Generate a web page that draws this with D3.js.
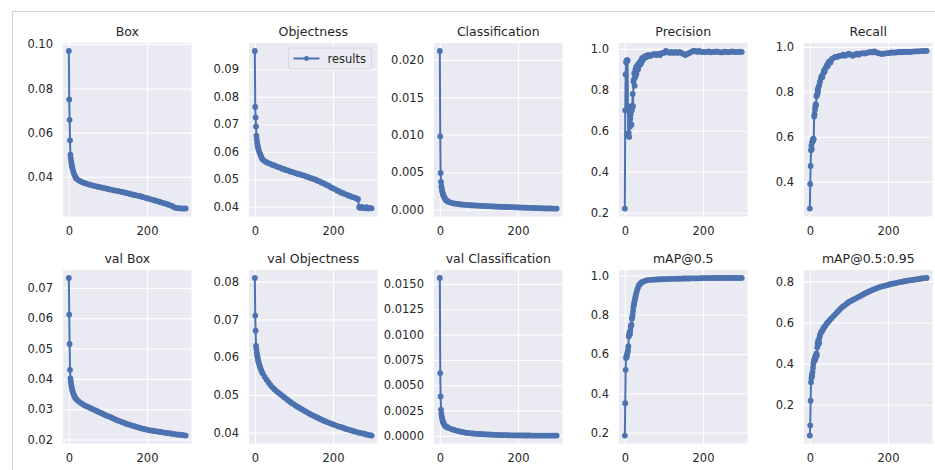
<!DOCTYPE html>
<html>
<head>
<meta charset="utf-8">
<script src="https://cdn.jsdelivr.net/npm/d3@7"></script>
<style>
  body { margin: 0; background: #fff; }
  text { font-family: "DejaVu Sans", sans-serif; fill: #262626; }
</style>
</head>
<body>
<div id="chart"></div>
<script>
// [epoch, value]
var boxLoss = [[0,0.0970],[1,0.0750],[2,0.0658],[3,0.0565],[4,0.0500],[5,0.0485],[6,0.0470],[7,0.0458],[8,0.0448],[9,0.0440],[10,0.0432],[12,0.0420],[14,0.0410],[16,0.0402],[18,0.0396],[20,0.0391],[25,0.0384],[30,0.0379],[35,0.0375],[40,0.0372],[45,0.0369],[50,0.0366],[55,0.0364],[60,0.0361],[65,0.0359],[70,0.0357],[75,0.0355],[80,0.0353],[85,0.0351],[90,0.0349],[95,0.0347],[100,0.0345],[105,0.0343],[110,0.0341],[115,0.0339],[120,0.0337],[125,0.0336],[130,0.0334],[135,0.0332],[140,0.0330],[145,0.0328],[150,0.0326],[155,0.0323],[160,0.0321],[165,0.0319],[170,0.0317],[175,0.0315],[180,0.0313],[185,0.0311],[190,0.0308],[195,0.0306],[200,0.0303],[205,0.0301],[210,0.0298],[215,0.0296],[220,0.0293],[225,0.0291],[230,0.0288],[235,0.0285],[240,0.0282],[245,0.0280],[250,0.0277],[255,0.0274],[260,0.0271],[265,0.0267],[270,0.0262],[275,0.0259],[280,0.0258],[285,0.0257],[290,0.0257],[295,0.0256],[299,0.0257]];

var objLoss = [[0,0.0967],[1,0.0763],[2,0.0725],[3,0.0692],[4,0.0658],[5,0.0645],[6,0.0633],[7,0.0624],[8,0.0617],[9,0.0611],[10,0.0605],[12,0.0597],[14,0.0590],[16,0.0583],[18,0.0577],[20,0.0572],[25,0.0566],[30,0.0562],[35,0.0558],[40,0.0556],[45,0.0552],[50,0.0550],[55,0.0547],[60,0.0544],[65,0.0542],[70,0.0538],[75,0.0537],[80,0.0533],[85,0.0532],[90,0.0528],[95,0.0527],[100,0.0524],[105,0.0522],[110,0.0519],[115,0.0518],[120,0.0515],[125,0.0514],[130,0.0510],[135,0.0509],[140,0.0505],[145,0.0504],[150,0.0500],[155,0.0499],[160,0.0494],[165,0.0493],[170,0.0488],[175,0.0486],[180,0.0482],[185,0.0478],[190,0.0476],[195,0.0470],[200,0.0467],[205,0.0464],[210,0.0459],[215,0.0457],[220,0.0452],[225,0.0450],[230,0.0446],[235,0.0444],[240,0.0440],[245,0.0438],[250,0.0435],[255,0.0433],[260,0.0430],[264,0.0427],[267,0.0398],[270,0.0395],[274,0.0399],[278,0.0396],[282,0.0394],[286,0.0398],[290,0.0393],[294,0.0396],[299,0.0394]];

var clsLoss = [[0,0.0212],[1,0.0098],[2,0.0049],[3,0.0037],[4,0.0031],[5,0.0028],[6,0.0025],[7,0.0023],[8,0.0021],[9,0.0019],[10,0.0018],[12,0.0016],[14,0.0014],[16,0.0013],[18,0.0012],[20,0.0011],[25,0.00100],[30,0.00092],[35,0.00086],[40,0.00081],[45,0.00077],[50,0.00073],[55,0.00070],[60,0.00068],[65,0.00066],[70,0.00064],[75,0.00062],[80,0.00060],[85,0.00058],[90,0.00057],[95,0.00055],[100,0.00054],[105,0.00052],[110,0.00051],[115,0.00049],[120,0.00048],[125,0.00047],[130,0.00046],[135,0.00044],[140,0.00043],[145,0.00042],[150,0.00041],[155,0.00040],[160,0.00039],[165,0.00038],[170,0.00037],[175,0.00036],[180,0.00035],[185,0.00034],[190,0.00033],[195,0.00032],[200,0.00031],[205,0.00030],[210,0.00029],[215,0.00028],[220,0.00027],[225,0.00026],[230,0.00025],[235,0.00024],[240,0.00023],[245,0.00022],[250,0.00021],[255,0.00021],[260,0.00020],[265,0.00019],[270,0.00018],[275,0.00018],[280,0.00017],[285,0.00017],[290,0.00016],[295,0.00016],[299,0.00015]];

var precision = [[0,0.22],[1,0.70],[2,0.875],[3,0.935],[4,0.70],[5,0.945],[6,0.94],[7,0.945],[8,0.70],[9,0.575],[10,0.59],[11,0.57],[12,0.70],[13,0.62],[14,0.66],[15,0.68],[16,0.72],[17,0.63],[18,0.70],[19,0.72],[20,0.78],[21,0.72],[22,0.84],[23,0.85],[24,0.88],[25,0.82],[26,0.86],[27,0.90],[28,0.87],[29,0.91],[30,0.88],[32,0.92],[34,0.90],[36,0.93],[38,0.92],[40,0.94],[42,0.93],[44,0.955],[46,0.945],[48,0.96],[50,0.955],[53,0.965],[56,0.96],[60,0.97],[65,0.965],[70,0.97],[75,0.975],[80,0.97],[85,0.975],[90,0.97],[95,0.98],[100,0.98],[105,0.99],[110,0.985],[115,0.98],[120,0.985],[125,0.98],[130,0.985],[135,0.98],[140,0.985],[145,0.98],[150,0.975],[155,0.97],[160,0.975],[165,0.98],[170,0.985],[175,0.99],[180,0.99],[185,0.985],[190,0.99],[195,0.985],[200,0.985],[205,0.985],[210,0.985],[215,0.988],[220,0.983],[225,0.985],[230,0.985],[235,0.987],[240,0.985],[245,0.983],[250,0.983],[255,0.986],[260,0.985],[265,0.984],[270,0.985],[275,0.987],[280,0.985],[285,0.984],[290,0.985],[295,0.986],[299,0.985]];

var recall = [[0,0.28],[1,0.39],[2,0.47],[3,0.54],[4,0.56],[5,0.545],[6,0.575],[7,0.58],[8,0.59],[9,0.585],[10,0.59],[11,0.69],[12,0.70],[13,0.72],[14,0.735],[15,0.745],[16,0.74],[17,0.78],[18,0.785],[19,0.79],[20,0.81],[21,0.80],[22,0.82],[24,0.83],[26,0.845],[28,0.86],[30,0.87],[32,0.865],[34,0.88],[36,0.895],[38,0.89],[40,0.905],[42,0.91],[44,0.92],[46,0.915],[48,0.93],[50,0.935],[53,0.93],[56,0.945],[60,0.95],[65,0.955],[70,0.955],[75,0.96],[80,0.96],[85,0.965],[90,0.96],[95,0.965],[100,0.97],[105,0.965],[110,0.96],[115,0.965],[120,0.97],[125,0.965],[130,0.97],[135,0.972],[140,0.97],[145,0.973],[150,0.975],[155,0.977],[160,0.975],[165,0.98],[170,0.975],[175,0.972],[180,0.97],[185,0.968],[190,0.97],[195,0.971],[200,0.972],[205,0.973],[210,0.975],[215,0.974],[220,0.975],[225,0.976],[230,0.977],[235,0.976],[240,0.977],[245,0.978],[250,0.978],[255,0.977],[260,0.978],[265,0.979],[270,0.98],[275,0.98],[280,0.98],[285,0.981],[290,0.982],[295,0.981],[299,0.982]];

var valBox = [[0,0.0733],[1,0.0612],[2,0.0515],[3,0.0430],[4,0.0402],[5,0.0392],[6,0.0383],[7,0.0375],[8,0.0368],[9,0.0362],[10,0.0357],[12,0.0350],[14,0.0344],[16,0.0339],[18,0.0335],[20,0.0332],[25,0.0326],[30,0.0321],[35,0.0317],[40,0.0313],[45,0.0310],[50,0.0307],[55,0.0304],[60,0.0301],[65,0.0298],[70,0.0295],[75,0.0292],[80,0.0289],[85,0.0286],[90,0.0283],[95,0.0280],[100,0.0277],[105,0.0275],[110,0.0272],[115,0.0269],[120,0.0266],[125,0.0263],[130,0.0261],[135,0.0258],[140,0.0256],[145,0.0253],[150,0.0251],[155,0.0249],[160,0.0247],[165,0.0245],[170,0.0243],[175,0.0241],[180,0.0239],[185,0.0237],[190,0.0236],[195,0.0234],[200,0.0233],[205,0.0231],[210,0.0230],[215,0.0229],[220,0.0228],[225,0.0227],[230,0.0226],[235,0.0225],[240,0.0224],[245,0.0223],[250,0.0222],[255,0.0221],[260,0.0220],[265,0.0219],[270,0.0218],[275,0.0217],[280,0.0216],[285,0.0216],[290,0.0215],[295,0.0214],[299,0.0213]];

var valObj = [[0,0.0810],[1,0.0710],[2,0.0670],[3,0.0630],[4,0.0622],[5,0.0612],[6,0.0605],[7,0.0600],[8,0.0594],[9,0.0589],[10,0.0585],[12,0.0578],[14,0.0572],[16,0.0566],[18,0.0561],[20,0.0557],[25,0.0548],[30,0.0540],[35,0.0533],[40,0.0526],[45,0.0520],[50,0.0515],[55,0.0510],[60,0.0506],[65,0.0502],[70,0.0498],[75,0.0494],[80,0.0490],[85,0.0486],[90,0.0482],[95,0.0478],[100,0.0475],[105,0.0471],[110,0.0468],[115,0.0465],[120,0.0462],[125,0.0459],[130,0.0456],[135,0.0453],[140,0.0450],[145,0.0447],[150,0.0445],[155,0.0442],[160,0.0440],[165,0.0437],[170,0.0435],[175,0.0432],[180,0.0430],[185,0.0428],[190,0.0426],[195,0.0424],[200,0.0422],[205,0.0420],[210,0.0418],[215,0.0416],[220,0.0415],[225,0.0413],[230,0.0411],[235,0.0409],[240,0.0408],[245,0.0406],[250,0.0405],[255,0.0403],[260,0.0402],[265,0.0400],[270,0.0399],[275,0.0398],[280,0.0397],[285,0.0395],[290,0.0394],[295,0.0393],[299,0.0392]];

var valCls = [[0,0.0156],[1,0.0062],[2,0.0039],[3,0.0026],[4,0.0022],[5,0.0019],[6,0.0017],[7,0.0015],[8,0.0014],[9,0.0013],[10,0.0012],[12,0.00105],[14,0.00098],[16,0.00092],[18,0.00088],[20,0.00084],[25,0.00075],[30,0.00068],[35,0.00061],[40,0.00055],[45,0.00050],[50,0.00045],[55,0.00041],[60,0.00037],[65,0.00033],[70,0.00030],[75,0.00028],[80,0.00026],[85,0.00024],[90,0.00022],[95,0.00021],[100,0.00020],[105,0.00019],[110,0.00017],[115,0.00016],[120,0.00015],[125,0.00014],[130,0.00013],[135,0.00012],[140,0.00011],[145,0.00010],[150,0.00009],[155,0.000085],[160,0.00008],[165,0.000075],[170,0.00007],[175,0.000065],[180,0.00006],[185,0.000058],[190,0.000055],[195,0.000052],[200,0.00005],[205,0.000048],[210,0.000046],[215,0.000044],[220,0.000042],[225,0.00004],[230,0.00004],[235,0.000038],[240,0.000037],[245,0.000036],[250,0.000035],[255,0.000034],[260,0.000033],[265,0.000032],[270,0.000032],[275,0.000031],[280,0.00003],[285,0.00003],[290,0.00003],[295,0.00003],[299,0.00003]];

var map50 = [[0,0.185],[1,0.35],[2,0.52],[3,0.58],[4,0.59],[5,0.585],[6,0.60],[7,0.61],[8,0.62],[9,0.64],[10,0.69],[11,0.70],[12,0.71],[13,0.70],[14,0.72],[15,0.74],[16,0.745],[17,0.75],[18,0.78],[19,0.79],[20,0.80],[21,0.82],[22,0.84],[23,0.85],[24,0.86],[25,0.87],[26,0.88],[27,0.89],[28,0.90],[30,0.915],[32,0.93],[34,0.94],[36,0.95],[38,0.955],[40,0.96],[43,0.965],[46,0.968],[50,0.972],[55,0.975],[60,0.977],[65,0.978],[70,0.979],[75,0.979],[80,0.98],[85,0.98],[90,0.981],[95,0.981],[100,0.982],[105,0.982],[110,0.982],[115,0.983],[120,0.983],[125,0.983],[130,0.984],[135,0.984],[140,0.984],[145,0.984],[150,0.985],[155,0.985],[160,0.985],[165,0.985],[170,0.986],[175,0.986],[180,0.986],[185,0.986],[190,0.986],[195,0.987],[200,0.987],[205,0.987],[210,0.987],[215,0.987],[220,0.987],[225,0.987],[230,0.988],[235,0.988],[240,0.988],[245,0.988],[250,0.988],[255,0.988],[260,0.988],[265,0.988],[270,0.988],[275,0.988],[280,0.988],[285,0.988],[290,0.988],[295,0.988],[299,0.988]];

var map5095 = [[0,0.05],[1,0.10],[2,0.22],[3,0.31],[4,0.33],[5,0.345],[6,0.34],[7,0.36],[8,0.38],[9,0.40],[10,0.41],[11,0.42],[12,0.415],[13,0.43],[14,0.42],[15,0.44],[16,0.435],[17,0.45],[18,0.44],[19,0.48],[20,0.50],[21,0.51],[22,0.495],[23,0.515],[24,0.50],[25,0.53],[26,0.54],[28,0.55],[30,0.555],[32,0.56],[34,0.57],[36,0.575],[38,0.58],[40,0.585],[43,0.595],[46,0.60],[50,0.61],[55,0.62],[60,0.63],[65,0.64],[70,0.65],[75,0.66],[80,0.67],[85,0.678],[90,0.685],[95,0.693],[100,0.70],[105,0.705],[110,0.71],[115,0.715],[120,0.72],[125,0.725],[130,0.73],[135,0.735],[140,0.74],[145,0.745],[150,0.75],[155,0.754],[160,0.758],[165,0.762],[170,0.766],[175,0.77],[180,0.773],[185,0.776],[190,0.778],[195,0.781],[200,0.783],[205,0.786],[210,0.788],[215,0.79],[220,0.792],[225,0.794],[230,0.796],[235,0.798],[240,0.80],[245,0.802],[250,0.803],[255,0.805],[260,0.806],[265,0.808],[270,0.809],[275,0.811],[280,0.812],[285,0.814],[290,0.815],[295,0.816],[299,0.817]];

var titles = ["Box", "Objectness", "Classification", "Precision", "Recall",
              "val Box", "val Objectness", "val Classification", "mAP@0.5", "mAP@0.5:0.95"];
var series = [boxLoss, objLoss, clsLoss, precision, recall, valBox, valObj, valCls, map50, map5095];

// tick labels per panel
var yTicks = [
  [0.04, 0.06, 0.08, 0.10],
  [0.04, 0.05, 0.06, 0.07, 0.08, 0.09],
  [0.000, 0.005, 0.010, 0.015, 0.020],
  [0.2, 0.4, 0.6, 0.8, 1.0],
  [0.4, 0.6, 0.8, 1.0],
  [0.02, 0.03, 0.04, 0.05, 0.06, 0.07],
  [0.04, 0.05, 0.06, 0.07, 0.08],
  [0.0000, 0.0025, 0.0050, 0.0075, 0.0100, 0.0125, 0.0150],
  [0.2, 0.4, 0.6, 0.8, 1.0],
  [0.2, 0.4, 0.6, 0.8]
];
var yFormats = [".2f", ".2f", ".3f", ".1f", ".1f", ".2f", ".2f", ".4f", ".1f", ".1f"];
var xTicks = [0, 200];
var legendLabel = "results";

var svgWidth = 935;
var svgHeight = 470;
var lineColor = "#4c72b0";
const dotRadius = 2.9;

// plot area layout (matplotlib subplots 2x5)
var colLeft = [63, 249, 434, 619, 804];
var rowTop = [43, 270];
var plotW = 128.5;
var plotH = 173.5;

var svg = d3.select("#chart")
  .append("svg")
  .attr("width", svgWidth)
  .attr("height", svgHeight);

// light frame around the figure
svg.append("path")
  .attr("d", "M12.5,470 V11.5 H935")
  .attr("fill", "none")
  .attr("stroke", "#d3d3d3")
  .attr("stroke-width", 1);

series.forEach(function(data, i) {
  var col = i % 5;
  var row = Math.floor(i / 5);

  var g = svg.append("g")
    .attr("transform", `translate(${colLeft[col]}, ${rowTop[row]})`);

  // matplotlib style 5% margins
  var xExt = d3.extent(data, d => d[0]);
  var yExt = d3.extent(data, d => d[1]);
  var xPad = (xExt[1] - xExt[0]) * 0.05;
  var yPad = (yExt[1] - yExt[0]) * 0.05;

  var x = d3.scaleLinear()
    .domain([xExt[0] - xPad, xExt[1] + xPad])
    .range([0, plotW]);
  var y = d3.scaleLinear()
    .domain([yExt[0] - yPad, yExt[1] + yPad])
    .range([plotH, 0]);

  g.append("rect")
    .attr("width", plotW)
    .attr("height", plotH)
    .attr("fill", "#eaeaf2");

  var ticksY = yTicks[i].filter(t => t >= y.domain()[0] && t <= y.domain()[1]);

  // y axis with grid lines
  var yAxis = g.append("g")
    .call(d3.axisLeft(y).tickValues(ticksY).tickFormat(d3.format(yFormats[i])).tickSize(-plotW).tickPadding(10));
  // x axis with grid lines
  var xAxis = g.append("g")
    .attr("transform", `translate(0, ${plotH})`)
    .call(d3.axisBottom(x).tickValues(xTicks).tickSize(-plotH).tickPadding(10));

  [xAxis, yAxis].forEach(function(ax) {
    ax.select(".domain").remove();
    ax.selectAll("line").attr("stroke", "#fff").attr("stroke-width", 1.1);
    ax.selectAll("text")
      .attr("fill", "#262626")
      .style("font-size", "11.5px")
      .style("font-family", "'DejaVu Sans', sans-serif");
  });

  var line = d3.line()
    .x(d => x(d[0]))
    .y(d => y(d[1]));

  g.append("path")
    .datum(data)
    .attr("d", line)
    .attr("fill", "none")
    .attr("stroke", lineColor)
    .attr("stroke-width", 2)
    .attr("stroke-linejoin", "round");

  g.selectAll(".dot")
    .data(data)
    .enter()
    .append("circle")
    .attr("cx", d => x(d[0]))
    .attr("cy", d => y(d[1]))
    .attr("r", dotRadius)
    .attr("fill", lineColor);

  // subplot title
  g.append("text")
    .attr("x", plotW / 2)
    .attr("y", -7)
    .attr("text-anchor", "middle")
    .style("font-size", "12.5px")
    .text(titles[i]);

  // legend only on Objectness panel
  if (i === 1) {
    var lg = g.append("g")
      .attr("transform", `translate(${plotW - 89}, 5)`);
    lg.append("rect")
      .attr("width", 83)
      .attr("height", 21)
      .attr("rx", 2.5)
      .attr("fill", "#eaeaf2")
      .attr("stroke", "#cfcfd6")
      .attr("stroke-width", 0.8);
    lg.append("line")
      .attr("x1", 5).attr("x2", 31)
      .attr("y1", 10.5).attr("y2", 10.5)
      .attr("stroke", lineColor)
      .attr("stroke-width", 2);
    lg.append("circle")
      .attr("cx", 18).attr("cy", 10.5)
      .attr("r", 2.4)
      .attr("fill", lineColor);
    lg.append("text")
      .attr("x", 39)
      .attr("y", 14.5)
      .style("font-size", "11.5px")
      .text(legendLabel);
  }
});
</script>
</body>
</html>
